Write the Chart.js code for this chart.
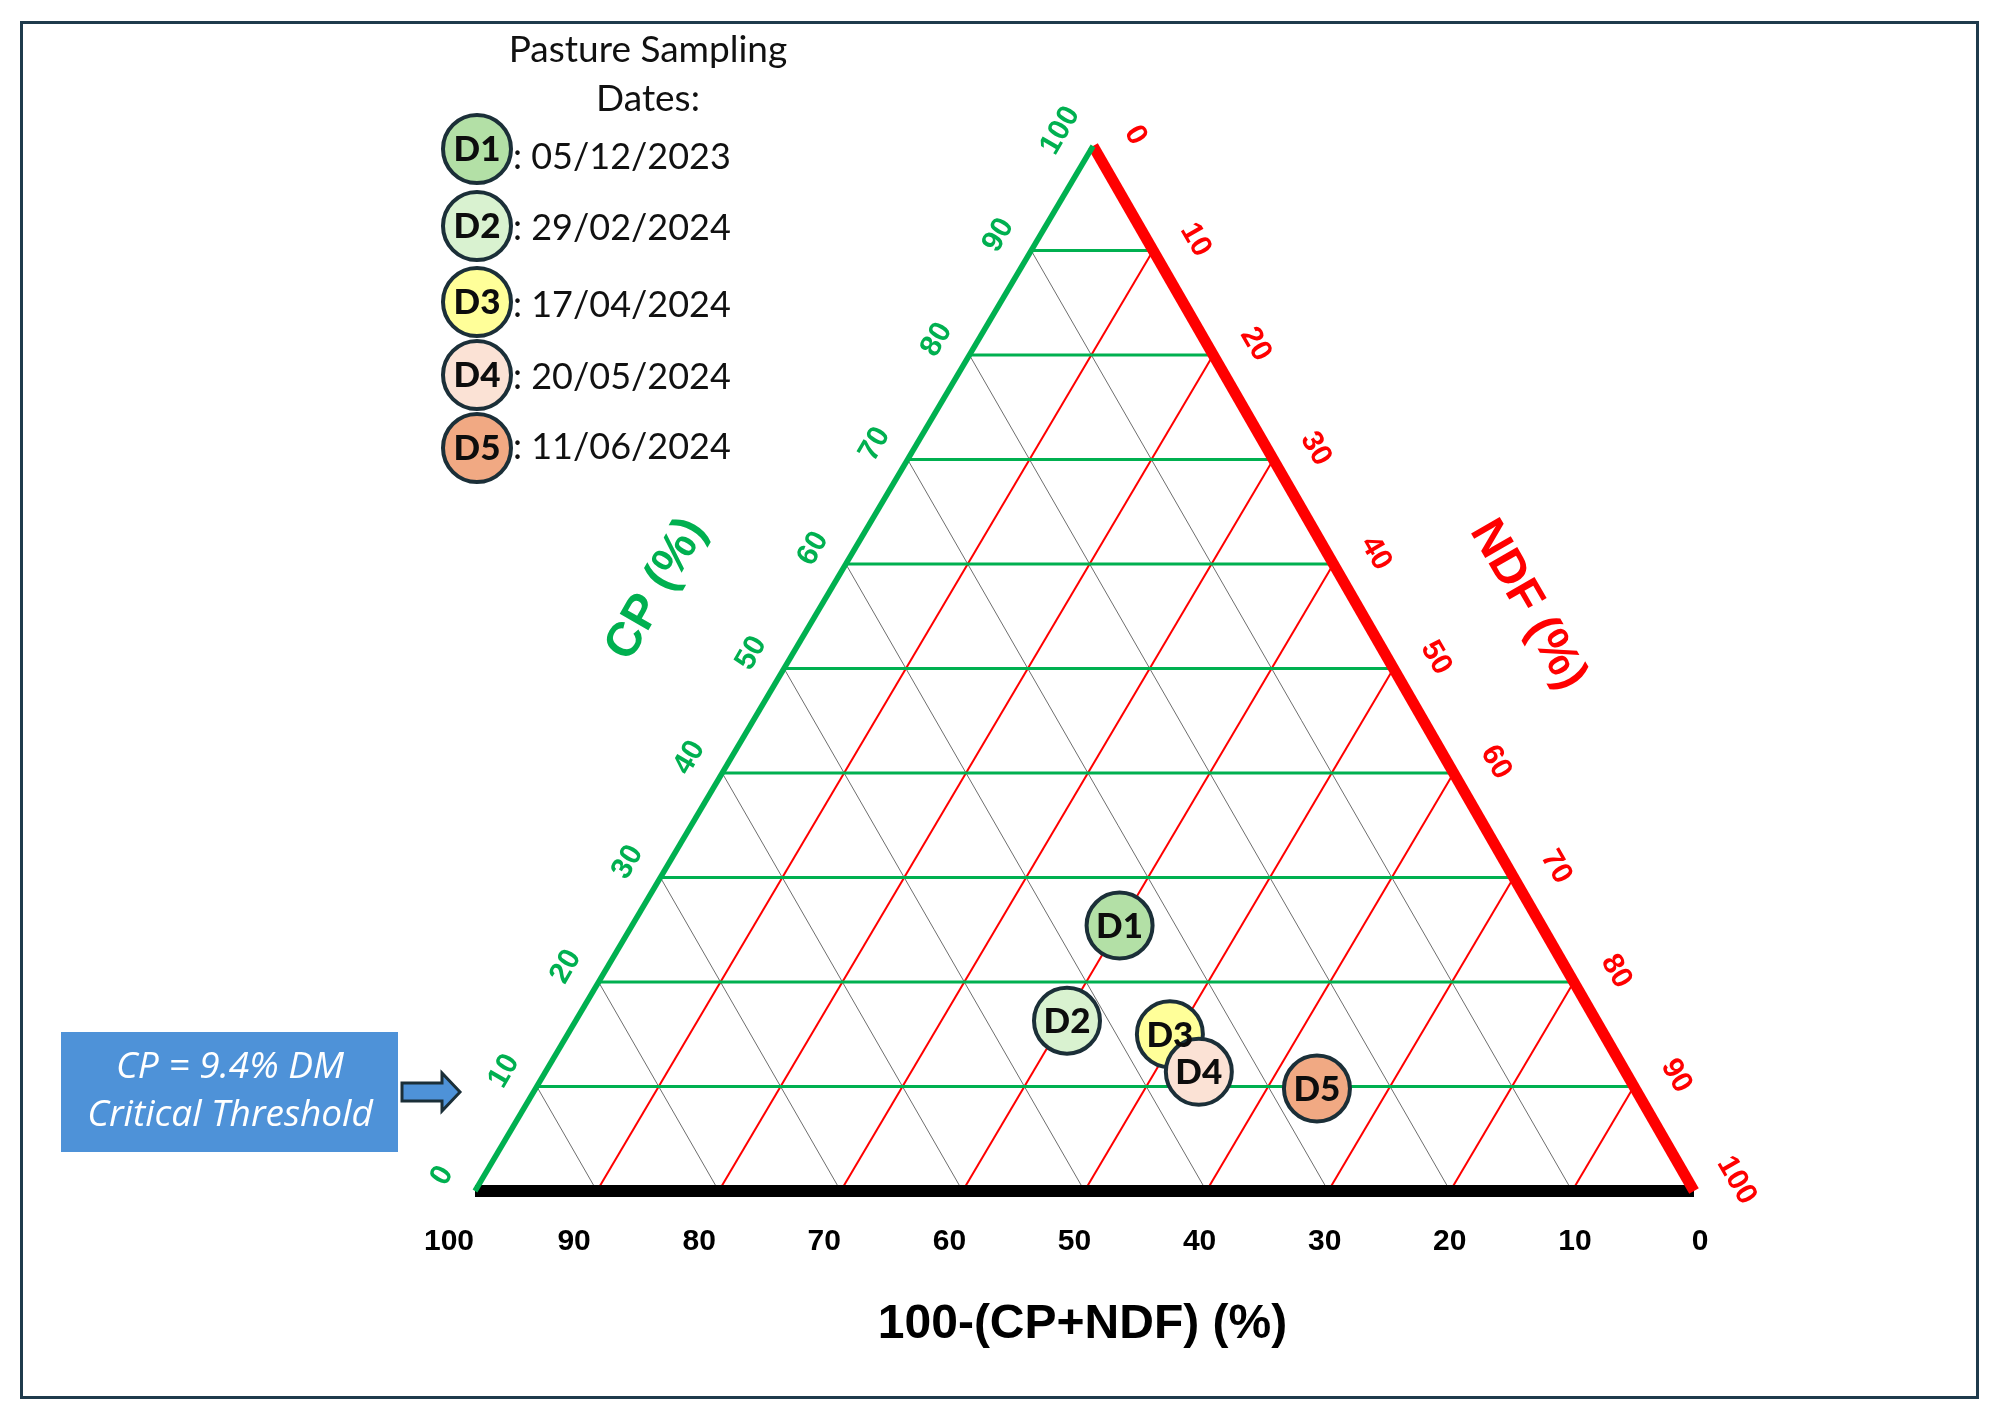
<!DOCTYPE html>
<html>
<head>
<meta charset="utf-8">
<script src="https://cdn.jsdelivr.net/npm/chart.js@4.4.0/dist/chart.umd.min.js"></script>
<style>
  html, body { margin: 0; padding: 0; background: #fff; }
  canvas { display: block; }
</style>
</head>
<body>
<canvas id="ternaryChart" width="1997" height="1419"></canvas>
<script>
// sample data (% of DM), third part is 100-(CP+NDF)
const sampleNames = ["D1", "D2", "D3", "D4", "D5"];
const sampleDates = ["05/12/2023", "29/02/2024", "17/04/2024", "20/05/2024", "11/06/2024"];
const cpValues = [25.4, 16.3, 15.0, 11.4, 9.8];
const ndfValues = [40.0, 40.3, 49.4, 53.6, 64.1];
const sampleColors = ["#b3e0a6", "#d9f2d0", "#ffff99", "#fbe2d5", "#f1a983"];

// axis ticks
const gridTicks = [10, 20, 30, 40, 50, 60, 70, 80, 90];
const tickLabels = [0, 10, 20, 30, 40, 50, 60, 70, 80, 90, 100];

const thresholdLines = ["CP = 9.4% DM", "Critical Threshold"];

const GREEN = "#00b050";
const RED = "#ff0000";
const DARK = "#1b2f38";
const SQ3 = Math.sqrt(3) / 2;

// ternary -> cartesian: bottom-left = 100% rest, bottom-right = 100% NDF, top = 100% CP
// (the original figure leans its apex very slightly to the right)
function toXY(cp, ndf) {
    return { x: ndf + cp * 0.507, y: cp * SQ3 };
}

function segment(a, b, color, width, order) {
    return {
        data: [a, b],
        showLine: true,
        borderColor: color,
        borderWidth: width,
        pointRadius: 0,
        pointHoverRadius: 0,
        clip: false,
        order: order
    };
}

const datasets = [];

// sample points on top
datasets.push({
    data: cpValues.map((cp, i) => toXY(cp, ndfValues[i])),
    pointRadius: 33,
    pointHoverRadius: 33,
    pointBackgroundColor: sampleColors,
    pointBorderColor: DARK,
    pointBorderWidth: 4,
    clip: false,
    order: 0
});

// triangle edges
datasets.push(segment(toXY(0, 0), toXY(100, 0), GREEN, 5.5, 1));
datasets.push(segment(toXY(100, 0), toXY(0, 100), RED, 11, 1));
datasets.push(segment(toXY(0, 0), toXY(0, 100), "#000000", 12, 1));

// grid lines
gridTicks.forEach(v => {
    // constant CP (green)
    datasets.push(segment(toXY(v, 0), toXY(v, 100 - v), GREEN, 2.8, 2));
    // constant NDF (red)
    datasets.push(segment(toXY(0, v), toXY(100 - v, v), RED, 2, 3));
    // constant rest (grey)
    datasets.push(segment(toXY(0, 100 - v), toXY(100 - v, 0), "#6e6e6e", 1, 4));
});

function px(chart, p) {
    return { x: chart.scales.x.getPixelForValue(p.x), y: chart.scales.y.getPixelForValue(p.y) };
}

function rotatedText(ctx, text, x, y, angle) {
    ctx.save();
    ctx.translate(x, y);
    ctx.rotate(angle);
    ctx.fillText(text, 0, 0);
    ctx.restore();
}

function circleLabel(ctx, name, x, y) {
    ctx.fillStyle = "#0d0d0d";
    ctx.font = "900 35px Lato";
    ctx.textAlign = "center";
    ctx.textBaseline = "middle";
    ctx.fillText(name, x, y + 1);
}

const decorPlugin = {
    id: "decor",
    beforeDraw(chart) {
        const ctx = chart.ctx;
        ctx.save();
        ctx.fillStyle = "#ffffff";
        ctx.fillRect(0, 0, chart.width, chart.height);
        // outer frame
        ctx.strokeStyle = "#1f3b4c";
        ctx.lineWidth = 3;
        ctx.strokeRect(21.5, 22.5, 1956, 1375);
        ctx.restore();
    },
    afterDatasetsDraw(chart) {
        const ctx = chart.ctx;
        ctx.save();
        const meta = chart.getDatasetMeta(0);
        meta.data.forEach((pt, i) => circleLabel(ctx, sampleNames[i], pt.x, pt.y));
        ctx.restore();
    },
    afterDraw(chart) {
        const ctx = chart.ctx;
        ctx.save();
        ctx.textAlign = "center";
        ctx.textBaseline = "middle";

        // CP ticks along the left edge
        ctx.fillStyle = GREEN;
        ctx.font = "bold 30px 'Liberation Sans'";
        tickLabels.forEach(v => {
            const p = px(chart, toXY(v, 0));
            rotatedText(ctx, String(v), p.x - 0.866 * 36 - 0.5 * 3, p.y - 0.5 * 36 + 0.866 * 3, -Math.PI / 3);
        });

        // NDF ticks along the right edge
        ctx.fillStyle = RED;
        tickLabels.forEach(v => {
            const p = px(chart, toXY(100 - v, v));
            rotatedText(ctx, String(v), p.x + 0.866 * 42 + 0.5 * 12, p.y - 0.5 * 42 + 0.866 * 12, Math.PI / 3);
        });

        // rest ticks along the bottom
        ctx.fillStyle = "#000";
        ctx.font = "bold 30px 'Liberation Sans'";
        tickLabels.forEach(v => {
            const p = px(chart, toXY(0, 100 - v));
            rotatedText(ctx, String(v), p.x + ((100 - v) - 50) * 0.32 - 10, p.y + 51, 0);
        });

        // axis titles
        ctx.font = "bold 48px 'Liberation Sans'";
        ctx.fillStyle = GREEN;
        let p = px(chart, toXY(50.4, 0));
        rotatedText(ctx, "CP (%)", p.x - 0.866 * 150, p.y - 0.5 * 150, -Math.PI / 3);
        ctx.fillStyle = RED;
        p = px(chart, toXY(49, 51));
        rotatedText(ctx, "NDF (%)", p.x + 0.866 * 148, p.y - 0.5 * 148, Math.PI / 3);
        ctx.fillStyle = "#000";
        p = px(chart, toXY(0, 50));
        rotatedText(ctx, "100-(CP+NDF) (%)", p.x - 2, p.y + 134, 0);

        // legend of sampling dates
        ctx.fillStyle = "#111";
        ctx.font = "37px Lato";
        ctx.fillText("Pasture Sampling", 648, 50);
        ctx.fillText("Dates:", 648, 99);
        const legendY = [149, 226, 302, 375, 448];
        const dateY = [157, 228, 305, 377, 447];
        sampleNames.forEach((name, i) => {
            ctx.beginPath();
            ctx.arc(477, legendY[i], 34, 0, Math.PI * 2);
            ctx.fillStyle = sampleColors[i];
            ctx.fill();
            ctx.lineWidth = 4;
            ctx.strokeStyle = DARK;
            ctx.stroke();
            circleLabel(ctx, name, 477, legendY[i]);
            ctx.fillStyle = "#111";
            ctx.font = "36px Lato";
            ctx.textAlign = "left";
            ctx.fillText(": " + sampleDates[i], 513, dateY[i]);
            ctx.textAlign = "center";
        });

        // critical threshold box + arrow
        ctx.fillStyle = "#4e92d8";
        ctx.fillRect(61, 1032, 337, 120);
        ctx.fillStyle = "#ffffff";
        ctx.font = "italic 37px 'Open Sans'";
        ctx.fillText(thresholdLines[0], 230, 1067);
        ctx.fillText(thresholdLines[1], 230, 1115);

        ctx.beginPath();
        ctx.moveTo(402, 1083);
        ctx.lineTo(442, 1083);
        ctx.lineTo(442, 1073);
        ctx.lineTo(460, 1092);
        ctx.lineTo(442, 1111);
        ctx.lineTo(442, 1101);
        ctx.lineTo(402, 1101);
        ctx.closePath();
        ctx.fillStyle = "#4e92d8";
        ctx.fill();
        ctx.lineWidth = 3;
        ctx.strokeStyle = DARK;
        ctx.stroke();

        ctx.restore();
    }
};

new Chart(document.getElementById("ternaryChart"), {
    type: "scatter",
    data: { datasets: datasets },
    options: {
        responsive: false,
        animation: false,
        devicePixelRatio: 1,
        layout: { padding: { left: 475, right: 303, top: 146, bottom: 228 } },
        scales: {
            x: { type: "linear", min: 0, max: 100, display: false },
            y: { type: "linear", min: 0, max: 100 * SQ3, display: false }
        },
        plugins: {
            legend: { display: false },
            tooltip: { enabled: false }
        },
        events: []
    },
    plugins: [decorPlugin]
});
</script>
</body>
</html>
